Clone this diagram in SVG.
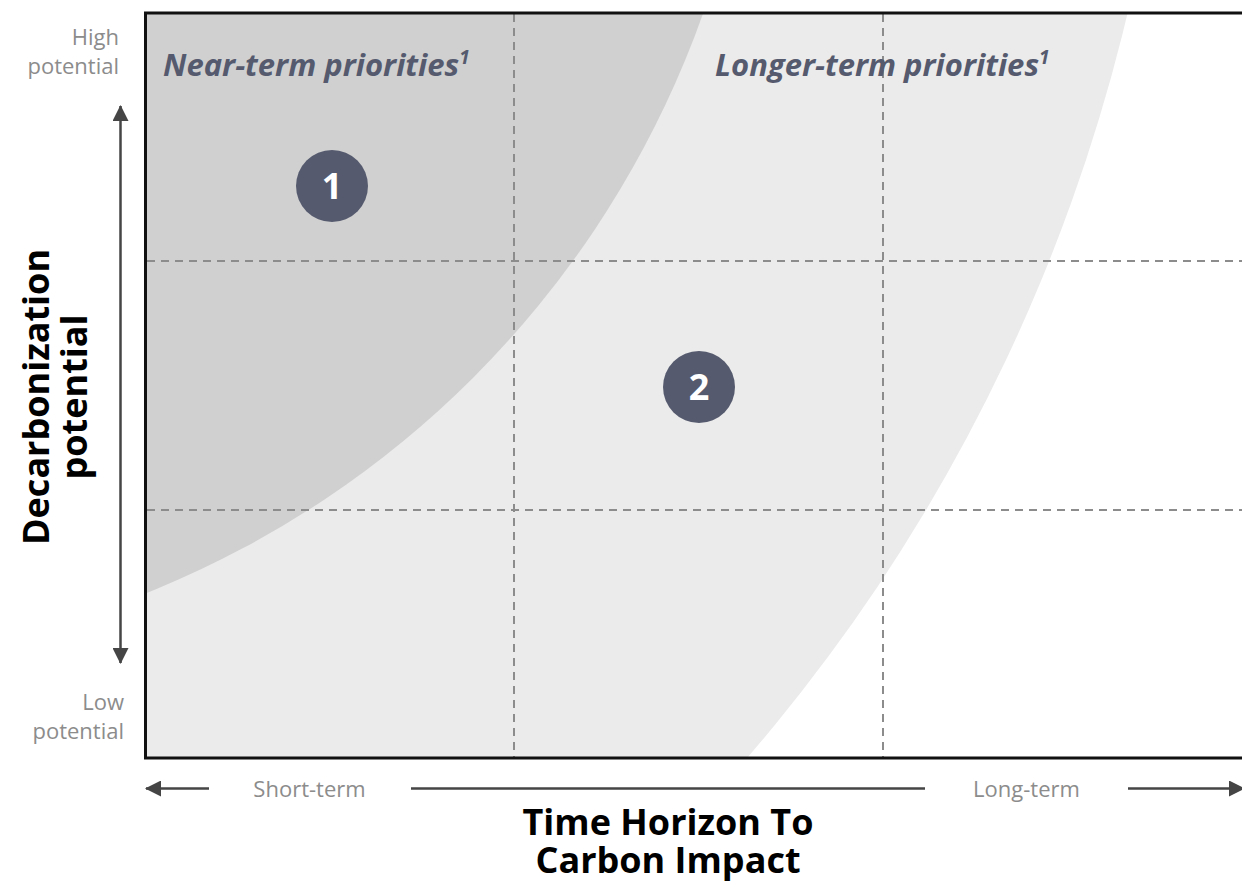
<svg xmlns="http://www.w3.org/2000/svg" width="1242" height="881" viewBox="0 0 1242 881">
<style>
.axis-sub{font-family:"Open Sans","Noto Sans",sans-serif;font-size:22px;fill:#8c8c8c}
.zone{font-family:"Open Sans","Noto Sans",sans-serif;font-size:31px;font-weight:bold;font-style:italic;fill:#555a6e}
.title{font-family:"Open Sans","Noto Sans",sans-serif;font-size:36px;font-weight:bold;fill:#000}
.badge-c{fill:#555a6e}
.badge-t{font-family:"Open Sans","Noto Sans",sans-serif;font-size:36px;font-weight:bold;fill:#fff}
.dash{stroke:#8c8c8c;stroke-width:2;stroke-dasharray:8 6;fill:none}
.arr{stroke:#454545;stroke-width:2.5;fill:none}
</style>
<defs>
<clipPath id="plot"><rect x="145" y="12" width="1097" height="746"/></clipPath>
<marker id="ah" viewBox="0 0 16 16" refX="15" refY="8" markerWidth="16" markerHeight="16" markerUnits="userSpaceOnUse" orient="auto"><path d="M0,0 L16,8 L0,16 Z" fill="#454545"/></marker>
</defs>
<rect width="1242" height="881" fill="#fff"/>
<g id="zones" clip-path="url(#plot)">
<circle id="zone2" cx="-587" cy="-393" r="1762" fill="#ebebeb"/>
<circle id="zone1" cx="-216" cy="-312" r="975" fill="#d0d0d0"/>
</g>
<g id="grid">
<line class="dash" x1="514" y1="14" x2="514" y2="757"/>
<line class="dash" x1="883" y1="14" x2="883" y2="757"/>
<line class="dash" x1="147" y1="261" x2="1242" y2="261"/>
<line class="dash" x1="147" y1="510" x2="1242" y2="510"/>
</g>
<path id="frame" d="M1242,13 H145.5 V758 H1242" fill="none" stroke="#111" stroke-width="3"/>
<g id="connectors">
<line class="arr" x1="120.5" y1="380" x2="120.5" y2="106" marker-end="url(#ah)"/>
<line class="arr" x1="120.5" y1="380" x2="120.5" y2="663" marker-end="url(#ah)"/>
<line class="arr" x1="209" y1="788.5" x2="146" y2="788.5" marker-end="url(#ah)"/>
<line class="arr" x1="411" y1="788.5" x2="925" y2="788.5"/>
<line class="arr" x1="1128" y1="788.5" x2="1244" y2="788.5" marker-end="url(#ah)"/>
</g>
<g id="y-labels">
<text class="axis-sub" x="119" y="45" text-anchor="end">High</text>
<text class="axis-sub" x="119" y="74" text-anchor="end">potential</text>
<text class="axis-sub" x="124" y="710" text-anchor="end">Low</text>
<text class="axis-sub" x="124" y="739" text-anchor="end">potential</text>
</g>
<g id="x-labels">
<text class="axis-sub" x="309.5" y="797" text-anchor="middle">Short-term</text>
<text class="axis-sub" x="1026.5" y="797" text-anchor="middle">Long-term</text>
</g>
<g id="zone-titles">
<text class="zone" x="163" y="76">Near-term priorities<tspan font-size="19" dy="-12">1</tspan></text>
<text class="zone" x="715" y="76">Longer-term priorities<tspan font-size="19" dy="-12">1</tspan></text>
</g>
<g id="badge1">
<circle class="badge-c" cx="332" cy="186" r="36"/>
<text class="badge-t" x="332" y="199" text-anchor="middle">1</text>
</g>
<g id="badge2">
<circle class="badge-c" cx="699" cy="387" r="36"/>
<text class="badge-t" x="699" y="400" text-anchor="middle">2</text>
</g>
<g id="x-title">
<text class="title" x="668" y="835" text-anchor="middle">Time Horizon To</text>
<text class="title" x="668" y="873" text-anchor="middle">Carbon Impact</text>
</g>
<g id="y-title" transform="translate(49,397) rotate(-90)">
<text class="title" x="0" y="0" text-anchor="middle">Decarbonization</text>
<text class="title" x="0" y="38" text-anchor="middle">potential</text>
</g>
</svg>
